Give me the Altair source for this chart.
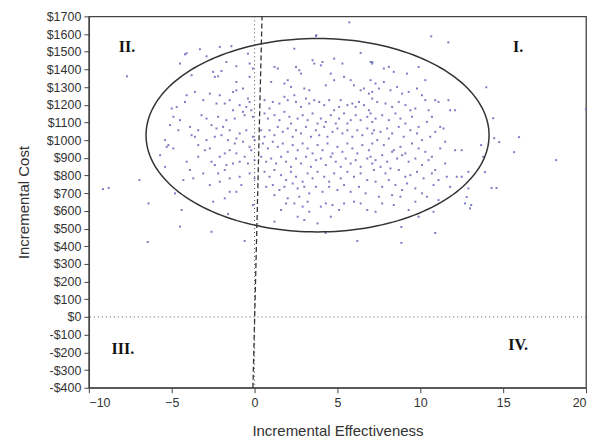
import altair as alt
import pandas as pd

x_ticks = [-10, -5, 0, 5, 10, 15, 20]
y_ticks = list(range(-400, 1800, 100))

# (incremental effectiveness, incremental cost) pairs
cloud_left = [
    (-2.1, 1527), (-1.4, 1531), (-4.2, 1485), (-2.9, 1474), (-4.5, 1433), (-1.7, 1442), (-2.5, 1386),
    (-2.0, 1391), (-1.1, 1418), (-0.4, 1489), (-0.3, 1433), (-0.1, 1405), (-2.4, 1358), (-2.2, 1361),
    (-1.1, 1329), (-0.3, 1358), (-3.8, 1367), (-4.1, 1254), (-3.6, 1273), (-2.7, 1263), (-2.1, 1254),
    (-1.3, 1273), (-1.1, 1282), (-0.7, 1292), (-0.4, 1235), (-0.3, 1216), (-1.5, 1226), (-1.8, 1207),
    (-0.9, 1198), (-0.5, 1188), (-1.3, 1169), (-0.7, 1160), (-0.2, 1169), (-5.0, 1179), (-4.7, 1188),
    (-4.2, 1216), (-3.1, 1226), (-2.3, 1207), (-4.9, 1132), (-4.5, 1113), (-3.2, 1141), (-2.9, 1122),
    (-2.2, 1132), (-1.7, 1113), (-1.2, 1122), (-0.6, 1141), (-0.1, 1132), (-5.1, 1085), (-4.6, 1056),
    (-3.9, 1075), (-3.4, 1056), (-2.6, 1085), (-2.3, 1066), (-1.9, 1075), (-1.5, 1056), (-0.9, 1038),
    (-0.5, 1056), (-0.1, 1019), (-5.4, 1000), (-5.2, 972), (-4.9, 953), (-3.8, 1028), (-3.6, 1019),
    (-2.9, 1000), (-2.4, 1019), (-2.0, 1028), (-1.6, 1000), (-1.2, 981), (-1.1, 1009), (-0.7, 991),
    (-0.3, 962), (0.0, 1000), (-5.3, 962), (-3.4, 972), (-3.0, 943), (-2.7, 953), (-2.1, 906),
    (-1.8, 925), (-1.5, 943), (-1.1, 925), (-0.6, 906), (-0.2, 943), (-5.7, 915), (-5.4, 849),
    (-4.1, 878), (-3.4, 906), (-2.6, 878), (-2.4, 859), (-1.7, 859), (-1.3, 868), (-0.9, 878),
    (-0.4, 868), (0.0, 887), (-3.9, 831), (-3.1, 812), (-2.2, 812), (-1.8, 831), (-1.5, 784),
    (-0.9, 793), (-0.8, 746), (-0.3, 812), (0.0, 784), (-4.3, 774), (-3.7, 784), (-2.7, 746),
    (-2.1, 765), (-4.8, 699), (-1.5, 708), (-1.1, 708), (-1.8, 671), (-2.5, 652), (-4.4, 605),
    (-0.1, 633),
]

cloud_mid = [
    (3.7, 1589), (2.4, 1517), (6.4, 1493), (7.0, 1442), (7.1, 1433), (1.2, 1414), (1.4, 1405),
    (3.5, 1452), (3.6, 1433), (4.1, 1442), (4.0, 1423), (4.8, 1461), (5.3, 1433), (2.5, 1414),
    (2.7, 1395), (2.8, 1376), (2.0, 1339), (1.8, 1320), (2.2, 1301), (3.0, 1292), (3.3, 1282),
    (4.6, 1376), (4.8, 1339), (4.3, 1310), (5.4, 1358), (5.8, 1339), (6.0, 1310), (6.4, 1282),
    (6.6, 1292), (6.9, 1263), (7.1, 1273), (1.0, 1329), (0.6, 1226), (0.9, 1179), (1.1, 1216),
    (1.5, 1207), (1.8, 1245), (2.0, 1226), (2.4, 1254), (2.5, 1216), (2.8, 1188), (3.1, 1235),
    (3.3, 1207), (3.6, 1226), (3.9, 1216), (4.2, 1198), (4.5, 1226), (4.8, 1169), (5.1, 1188),
    (5.2, 1226), (5.6, 1198), (5.9, 1207), (6.1, 1188), (6.3, 1216), (6.6, 1198), (6.9, 1169),
    (0.6, 1151), (0.8, 1122), (1.2, 1141), (1.5, 1113), (1.8, 1160), (2.1, 1132), (2.2, 1094),
    (2.6, 1122), (2.9, 1141), (3.2, 1113), (3.5, 1151), (3.8, 1094), (4.0, 1122), (4.3, 1103),
    (4.6, 1141), (4.9, 1094), (5.1, 1122), (5.4, 1151), (5.6, 1094), (5.8, 1113), (6.1, 1141),
    (6.4, 1113), (6.8, 1132), (7.1, 1103), (0.4, 1056), (0.6, 1019), (0.9, 1056), (1.2, 1028),
    (1.4, 1075), (1.7, 1047), (2.0, 1066), (2.3, 1019), (2.5, 1056), (2.8, 1038), (3.1, 1075),
    (3.4, 1019), (3.7, 1056), (3.9, 1028), (4.2, 1075), (4.4, 1019), (4.7, 1047), (5.0, 1066),
    (5.3, 1038), (5.6, 1056), (5.9, 1019), (6.2, 1056), (6.5, 1028), (6.8, 1066), (7.1, 1038),
    (0.5, 981), (0.8, 953), (1.1, 991), (1.4, 962), (1.7, 981), (2.0, 934), (2.3, 972),
    (2.6, 943), (2.9, 981), (3.2, 953), (3.5, 925), (3.8, 972), (4.1, 943), (4.4, 981),
    (4.7, 925), (5.0, 962), (5.3, 934), (5.6, 981), (5.9, 953), (6.2, 925), (6.5, 972),
    (6.9, 943), (0.4, 906), (0.7, 878), (1.0, 896), (1.3, 868), (1.6, 906), (1.9, 878),
    (2.2, 849), (2.5, 896), (2.8, 868), (3.1, 906), (3.4, 849), (3.7, 887), (4.0, 896),
    (4.3, 859), (4.6, 906), (4.9, 878), (5.2, 849), (5.5, 896), (5.8, 868), (6.1, 887),
    (6.4, 849), (6.8, 896), (7.1, 868), (0.6, 821), (0.9, 793), (1.2, 831), (1.6, 802),
    (1.9, 774), (2.2, 821), (2.5, 793), (2.9, 765), (3.2, 812), (3.5, 784), (3.8, 821),
    (4.2, 793), (4.5, 765), (4.8, 812), (5.2, 784), (5.6, 821), (6.0, 793), (6.4, 812),
    (6.8, 774), (0.7, 736), (1.1, 746), (1.5, 718), (1.8, 736), (2.3, 755), (2.6, 727),
    (3.0, 736), (3.3, 699), (3.7, 736), (4.1, 708), (4.5, 736), (5.0, 718), (5.4, 746),
    (5.8, 708), (6.3, 736), (6.7, 699), (1.2, 689), (2.0, 671), (2.4, 642), (2.7, 680),
    (3.2, 652), (2.9, 624), (4.0, 624), (4.3, 642), (4.7, 633), (5.1, 605), (5.4, 642),
    (6.0, 652), (6.4, 642), (1.6, 605), (1.9, 642), (2.6, 567), (3.3, 595), (3.0, 548),
    (3.8, 529), (4.6, 567), (1.2, 539), (6.8, 605),
]

cloud_right = [
    (7.1, 1442), (7.8, 1405), (8.1, 1414), (8.4, 1386), (9.2, 1376), (9.9, 1414), (10.3, 1339),
    (7.0, 1339), (7.3, 1320), (7.5, 1292), (7.8, 1329), (8.2, 1282), (8.6, 1301), (8.9, 1263),
    (9.3, 1273), (9.8, 1292), (10.1, 1254), (10.3, 1226), (10.9, 1226), (11.1, 1216), (11.7, 1226),
    (7.1, 1235), (7.4, 1216), (7.9, 1207), (8.3, 1188), (8.7, 1216), (9.1, 1198), (9.4, 1169),
    (9.7, 1179), (10.5, 1169), (11.8, 1169), (12.1, 1169), (7.0, 1151), (7.3, 1122), (7.7, 1141),
    (8.1, 1113), (8.5, 1151), (8.8, 1122), (9.1, 1094), (9.5, 1132), (9.9, 1075), (10.4, 1103),
    (10.7, 1132), (11.2, 1075), (11.4, 1066), (7.2, 1056), (7.6, 1047), (8.0, 1066), (8.3, 1038),
    (8.7, 1075), (9.0, 1019), (9.4, 1056), (9.8, 1038), (10.1, 1000), (10.6, 1019), (10.9, 1047),
    (11.5, 991), (12.1, 943), (7.1, 981), (7.4, 1000), (7.8, 972), (8.1, 1009), (8.4, 943),
    (8.8, 962), (9.1, 925), (9.5, 981), (9.9, 953), (10.3, 934), (10.7, 906), (11.2, 953),
    (7.0, 906), (7.3, 887), (7.7, 915), (8.0, 878), (8.3, 934), (8.6, 896), (8.9, 915),
    (9.3, 878), (9.7, 896), (10.1, 859), (10.5, 887), (10.9, 831), (11.5, 868), (12.5, 943),
    (13.8, 906), (7.2, 831), (7.6, 849), (7.9, 812), (8.2, 840), (8.7, 831), (9.1, 793),
    (9.4, 802), (9.8, 821), (10.2, 784), (10.7, 812), (11.1, 774), (11.6, 793), (12.2, 793),
    (12.5, 793), (12.9, 821), (7.3, 765), (7.7, 736), (8.1, 774), (8.5, 746), (8.9, 718),
    (9.2, 755), (9.7, 727), (10.1, 699), (10.8, 746), (11.8, 736), (12.9, 727), (7.5, 680),
    (8.3, 689), (8.8, 680), (9.7, 652), (10.4, 680), (11.1, 661), (12.7, 642), (13.0, 614),
    (7.3, 595), (7.7, 642), (8.4, 633), (9.3, 605), (9.9, 567), (10.8, 595),
]

outliers = [
    (-6.4, 642), (-4.5, 511), (-2.6, 482), (-9.15, 723), (-8.8, 730), (-7.7, 1361), (-6.95, 774),
    (-6.45, 424), (-0.6, 430), (-1.6, 582), (-4.1, 1491), (-3.3, 1514), (10.66, 1587), (11.69, 1553),
    (13.98, 1299), (20.0, 1175), (14.4, 1124), (15.96, 1017), (14.46, 1011), (14.76, 989),
    (15.66, 932), (13.67, 972), (18.2, 887), (14.3, 729), (14.6, 729), (13.07, 633), (12.8, 678),
    (13.9, 819), (6.2, 430), (8.86, 419), (4.28, 475), (8.86, 509), (10.9, 475), (5.72, 1666),
    (3.73, 1593),
]

ellipse_center = (3.8, 1028)
ellipse_radii = (10.35, 547)

wtp_eff = [-0.1, 0.45]
wtp_cost = [-400, 1700]

quad_labels = ["I.", "II.", "III.", "IV."]
quad_eff = [15.9, -7.7, -7.95, 15.9]
quad_cost = [1525, 1525, -180, -157]

pts = pd.DataFrame(cloud_left + cloud_mid + cloud_right + outliers, columns=["eff", "cost"])

xs = alt.Scale(domain=[-10, 20], nice=False, zero=False)
ys = alt.Scale(domain=[-400, 1700], nice=False, zero=False)

x_axis = alt.Axis(values=x_ticks, title="Incremental Effectiveness", grid=False,
                  labelFontSize=12.5, titleFontSize=15, titlePadding=14, tickSize=5,
                  labelPadding=4)
y_axis = alt.Axis(values=y_ticks, title="Incremental Cost", grid=False,
                  labelExpr="datum.value < 0 ? '-$' + abs(datum.value) : '$' + datum.value",
                  labelFontSize=12.5, titleFontSize=15, titlePadding=15, tickSize=5,
                  labelPadding=3)


def X():
    return alt.X("eff:Q", scale=xs, axis=x_axis)


def Y():
    return alt.Y("cost:Q", scale=ys, axis=y_axis)


points = alt.Chart(pts).mark_square(size=4, color="#6666bb", opacity=0.85).encode(x=X(), y=Y())

ellipse = alt.Chart(alt.sequence(0, 362, 2, as_="deg")).transform_calculate(
    eff=f"{ellipse_center[0]} + {ellipse_radii[0]} * cos(datum.deg * PI / 180)",
    cost=f"{ellipse_center[1]} + {ellipse_radii[1]} * sin(datum.deg * PI / 180)",
).mark_line(color="#333333", strokeWidth=1.5).encode(x=X(), y=Y(), order="deg:Q")

hzero = alt.Chart(pd.DataFrame({"cost": [0]})).mark_rule(
    color="#555555", strokeDash=[1, 3], strokeWidth=1
).encode(y=Y())

vzero = alt.Chart(pd.DataFrame({"eff": [0]})).mark_rule(
    color="#555555", strokeDash=[1, 3], strokeWidth=1
).encode(x=X())

wtp = alt.Chart(pd.DataFrame({"eff": wtp_eff, "cost": wtp_cost})).mark_line(
    color="#333333", strokeDash=[5, 3], strokeWidth=1.3
).encode(x=X(), y=Y())

quads = alt.Chart(pd.DataFrame({"label": quad_labels, "eff": quad_eff, "cost": quad_cost})).mark_text(
    font="Liberation Serif", fontWeight="bold", fontSize=16, color="#111111"
).encode(x=X(), y=Y(), text="label:N")

chart = alt.layer(points, hzero, vzero, wtp, ellipse, quads).properties(
    width=498, height=372,
    autosize=alt.AutoSizeParams(type="none"),
    padding={"left": 81, "top": 8, "right": 10, "bottom": 50},
).configure_view(
    stroke="#444444", strokeWidth=1.3
).configure_axis(
    domainColor="#444444", tickColor="#444444", labelColor="#333333",
    titleColor="#333333", labelFont="Liberation Sans", titleFont="Liberation Sans",
    titleFontWeight="normal", domainWidth=1.3
)

chart.save("out.html", embed_options={"renderer": "svg", "actions": False})
